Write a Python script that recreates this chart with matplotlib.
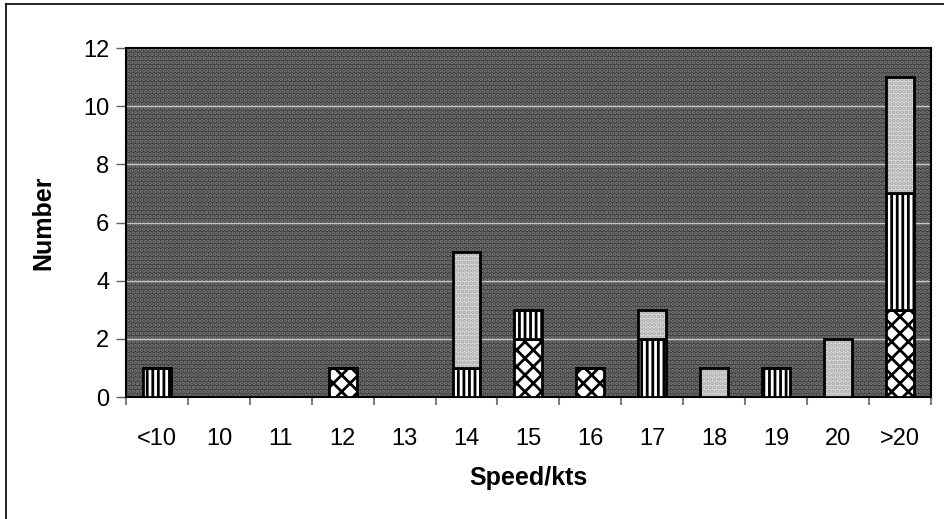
import numpy as np
import matplotlib.pyplot as plt
from matplotlib.lines import Line2D
from matplotlib.patches import Rectangle

plt.rcParams['font.family'] = ['Liberation Sans', 'DejaVu Sans']
plt.rcParams['hatch.linewidth'] = 2.0

# Data
speeds = ['<10', '10', '11', '12', '13', '14', '15', '16', '17', '18', '19', '20', '>20']
checker = [0, 0, 0, 1, 0, 0, 2, 1, 0, 0, 0, 0, 3]   # bottom series
stripes = [1, 0, 0, 0, 0, 1, 1, 0, 2, 0, 1, 0, 4]   # middle series
light = [0, 0, 0, 0, 0, 4, 0, 0, 1, 1, 0, 2, 4]     # top series

x = np.arange(len(speeds))
checker = np.array(checker)
stripes = np.array(stripes)
light = np.array(light)

fig = plt.figure(figsize=(9.44, 5.19), dpi=100)
ax = fig.add_axes([0.1335, 0.235, 0.8525, 0.6725])
ax.set_facecolor('#3a3a3a')
# speckled texture of the scanned plot area
ax.add_patch(Rectangle((0, 0), 1, 1, transform=ax.transAxes, facecolor='none',
                       edgecolor='#7c7c7c', hatch='....', linewidth=0, zorder=0.5))

w = 0.45
ax.bar(x, checker, w, color='white', edgecolor='black', hatch='xx', linewidth=2, zorder=3)
ax.bar(x, stripes, w, bottom=checker, color='white', edgecolor='black', hatch='|||',
       linewidth=2, zorder=3)
ax.bar(x, light, w, bottom=checker + stripes, color='#dcdcdc', edgecolor='#a8a8a8',
       hatch='....', linewidth=0, zorder=3)
ax.bar(x, light, w, bottom=checker + stripes, color='none', edgecolor='black',
       linewidth=2, zorder=3.5)

ax.set_xlim(-0.5, len(speeds) - 0.5)
ax.set_ylim(0, 12)
ax.set_yticks(np.arange(0, 13, 2))
ax.yaxis.grid(True, color='#c8c8c8', linewidth=1, zorder=1)
ax.set_axisbelow(True)

ax.set_xticks(x)
ax.set_xticklabels(speeds)
ax.tick_params(axis='x', length=0, pad=22, labelsize=17)
ax.set_xticks(np.arange(-0.5, len(speeds), 1), minor=True)
ax.tick_params(axis='x', which='minor', length=6, color='#808080', width=1.5)
ax.tick_params(axis='y', length=7, width=1, color='#606060', labelsize=17, pad=5)

for s in ax.spines.values():
    s.set_color('black')
    s.set_linewidth(1.5)

ax.set_xlabel('Speed/kts', fontsize=18, fontweight='bold', labelpad=12)
ax.set_ylabel('Number', fontsize=18, fontweight='bold', labelpad=20)

# scanned border of the figure (top and left only)
fig.add_artist(Line2D([0.006, 1.0], [0.992, 0.992], color='black', linewidth=1.2))
fig.add_artist(Line2D([0.006, 0.006], [0.0, 0.992], color='black', linewidth=1.2))

fig.savefig('out.png', dpi=100)
